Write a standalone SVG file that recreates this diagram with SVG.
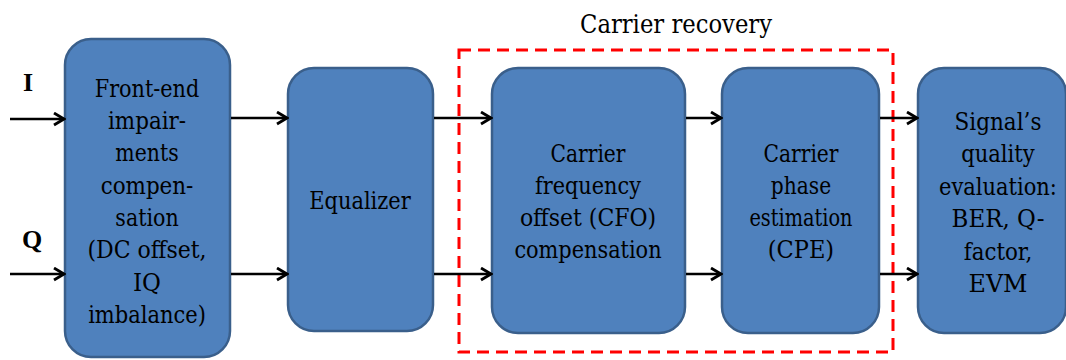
<svg xmlns="http://www.w3.org/2000/svg" width="1066" height="360" viewBox="0 0 1066 360">
<style>
.box{fill:#4F81BD;stroke:#3A5F8B;stroke-width:2.5}
text{fill:#000;text-anchor:middle}
.t{font-family:'DejaVu Serif Condensed','DejaVu Serif',serif;font-size:24px}
.title{font-family:'DejaVu Serif Condensed','DejaVu Serif',serif;font-size:26px}
.lbl{font-size:26px;font-weight:bold;font-family:'Liberation Serif','Times New Roman',serif}
.conn{stroke:#000;stroke-width:2.5;fill:none;marker-end:url(#arr)}
</style>
<defs>
<marker id="arr" markerUnits="userSpaceOnUse" markerWidth="14" markerHeight="16" refX="12" refY="7" orient="auto">
<path d="M2,1 L12,7 L2,13" fill="none" stroke="#000" stroke-width="2.8"/>
</marker>
</defs>
<g id="carrier-recovery">
<rect x="459" y="50" width="434" height="302" fill="none" stroke="#FF0000" stroke-width="3" stroke-dasharray="12 7"/>
<text class="title" x="676" y="33" textLength="192" lengthAdjust="spacingAndGlyphs">Carrier recovery</text>
</g>
<g id="input-labels">
<text class="lbl" x="28" y="91">I</text>
<text class="lbl" x="32" y="248">Q</text>
</g>
<g id="frontend">
<rect class="box" x="65" y="39" width="165" height="318" rx="26"/>
<text class="t" x="147" y="97" textLength="104.5" lengthAdjust="spacingAndGlyphs">Front-end</text>
<text class="t" x="147" y="129" textLength="78" lengthAdjust="spacingAndGlyphs">impair-</text>
<text class="t" x="147" y="161" textLength="63.3" lengthAdjust="spacingAndGlyphs">ments</text>
<text class="t" x="147" y="194" textLength="92.7" lengthAdjust="spacingAndGlyphs">compen-</text>
<text class="t" x="147" y="226" textLength="63.3" lengthAdjust="spacingAndGlyphs">sation</text>
<text class="t" x="147" y="258" textLength="119.2" lengthAdjust="spacingAndGlyphs">(DC offset,</text>
<text class="t" x="147" y="291" textLength="28" lengthAdjust="spacingAndGlyphs">IQ</text>
<text class="t" x="147" y="323" textLength="117.7" lengthAdjust="spacingAndGlyphs">imbalance)</text>
</g>
<g id="equalizer">
<rect class="box" x="288" y="68" width="145" height="263" rx="26"/>
<text class="t" x="360" y="209" textLength="101.5" lengthAdjust="spacingAndGlyphs">Equalizer</text>
</g>
<g id="cfo">
<rect class="box" x="492" y="68" width="193" height="265" rx="26"/>
<text class="t" x="588" y="162" textLength="75" lengthAdjust="spacingAndGlyphs">Carrier</text>
<text class="t" x="588" y="194" textLength="105.9" lengthAdjust="spacingAndGlyphs">frequency</text>
<text class="t" x="588" y="226" textLength="136.2" lengthAdjust="spacingAndGlyphs">offset (CFO)</text>
<text class="t" x="588" y="258" textLength="147.2" lengthAdjust="spacingAndGlyphs">compensation</text>
</g>
<g id="cpe">
<rect class="box" x="722" y="68" width="157" height="265" rx="26"/>
<text class="t" x="801" y="162" textLength="75" lengthAdjust="spacingAndGlyphs">Carrier</text>
<text class="t" x="801" y="194" textLength="60.3" lengthAdjust="spacingAndGlyphs">phase</text>
<text class="t" x="801" y="226" textLength="103.1" lengthAdjust="spacingAndGlyphs">estimation</text>
<text class="t" x="801" y="258" textLength="66.3" lengthAdjust="spacingAndGlyphs">(CPE)</text>
</g>
<g id="evaluation">
<rect class="box" x="918" y="68" width="148" height="265" rx="26"/>
<text class="t" x="998" y="130" textLength="86.9" lengthAdjust="spacingAndGlyphs">Signal’s</text>
<text class="t" x="998" y="162" textLength="73.6" lengthAdjust="spacingAndGlyphs">quality</text>
<text class="t" x="998" y="195" textLength="117.8" lengthAdjust="spacingAndGlyphs">evaluation:</text>
<text class="t" x="998" y="227" textLength="92.8" lengthAdjust="spacingAndGlyphs">BER, Q-</text>
<text class="t" x="998" y="260" textLength="68.4" lengthAdjust="spacingAndGlyphs">factor,</text>
<text class="t" x="998" y="292" textLength="58.9" lengthAdjust="spacingAndGlyphs">EVM</text>
</g>
<g id="connectors">
<line class="conn" x1="10" y1="119" x2="64" y2="119"/>
<line class="conn" x1="10" y1="274" x2="64" y2="274"/>
<line class="conn" x1="231" y1="118" x2="287" y2="118"/>
<line class="conn" x1="231" y1="274" x2="287" y2="274"/>
<line class="conn" x1="434" y1="118" x2="491" y2="118"/>
<line class="conn" x1="434" y1="274" x2="491" y2="274"/>
<line class="conn" x1="686" y1="118" x2="721" y2="118"/>
<line class="conn" x1="686" y1="274" x2="721" y2="274"/>
<line class="conn" x1="880" y1="118" x2="917" y2="118"/>
<line class="conn" x1="880" y1="274" x2="917" y2="274"/>
</g>
</svg>
